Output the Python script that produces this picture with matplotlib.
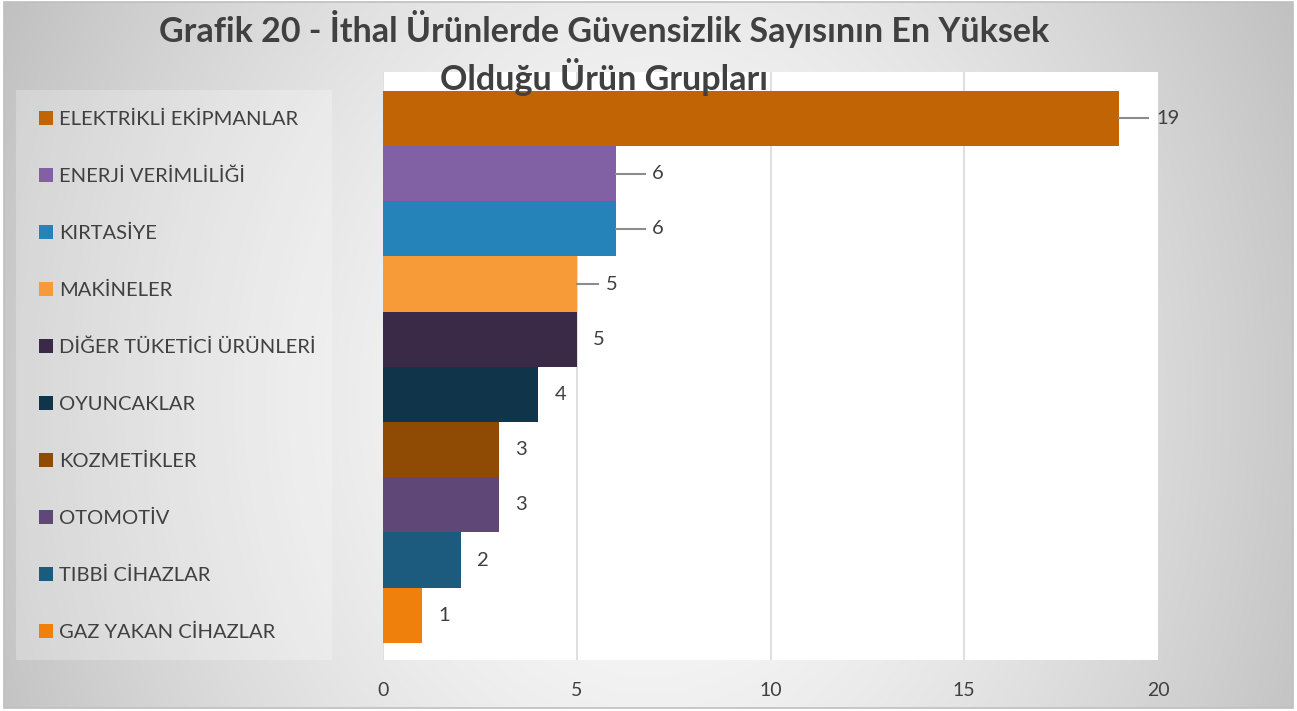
import numpy as np
import matplotlib
matplotlib.use("Agg")
import matplotlib.pyplot as plt
from matplotlib.patches import Rectangle

categories = ["ELEKTRİKLİ EKİPMANLAR", "ENERJİ VERİMLİLİĞİ", "KIRTASİYE", "MAKİNELER",
              "DİĞER TÜKETİCİ ÜRÜNLERİ", "OYUNCAKLAR", "KOZMETİKLER", "OTOMOTİV",
              "TIBBİ CİHAZLAR", "GAZ YAKAN CİHAZLAR"]
values = [19, 6, 6, 5, 5, 4, 3, 3, 2, 1]
colors = ["#C16406", "#8160A3", "#2683BA", "#F79B39", "#3A2A47",
          "#10344A", "#8F4A04", "#5F4878", "#1C5A7E", "#F0800C"]
leader_len = [0.75, 0.75, 0.75, 0.55, 0, 0, 0, 0, 0, 0]
xticks = [0, 5, 10, 15, 20]
title = "Grafik 20 - İthal Ürünlerde Güvensizlik Sayısının En Yüksek\nOlduğu Ürün Grupları"

W, H = 1297, 711
plt.rcParams['font.family'] = ['Lato', 'DejaVu Sans']
fig = plt.figure(figsize=(W / 100, H / 100), dpi=100, facecolor="white")

# background gradient
bg = fig.add_axes([0, 0, 1, 1], zorder=-5)
bg.set_xlim(0, W); bg.set_ylim(H, 0); bg.axis("off")
yy, xx = np.mgrid[0:H, 0:W]
dx = (xx - 650) / 650.0
dy = (yy - 400) / 400.0
d = np.sqrt(dx ** 2 + (0.5 * dy) ** 2)
g = np.clip(0.99 - 0.2 * d ** 1.5, 0, 1)
img = np.dstack([g, g, g])
bg.imshow(img, extent=(4, W - 4, H - 3, 2), aspect="auto", interpolation="bilinear")
bg.add_patch(Rectangle((4, 2), W - 8, H - 5, fill=False, ec="#bfbfbf", lw=1.2))
# legend box
bg.add_patch(Rectangle((16, 90), 316, 570, fc="white", alpha=0.25, ec="none"))

# main axes
left, right, top, bottom = 383, 1158, 72, 660
ax = fig.add_axes([left / W, 1 - bottom / H, (right - left) / W, (bottom - top) / H])
ax.set_facecolor("white")
y = np.arange(len(values))
bars = ax.barh(y, values, height=1.0, color=colors, zorder=3)
ax.set_xlim(0, 20)
ax.set_ylim(9.81, -0.84)
ax.set_xticks(xticks)
ax.set_xticklabels([str(t) for t in xticks], fontsize=14, color="#404040")
ax.tick_params(axis="x", length=0, pad=16)
ax.set_yticks([])
for s in ax.spines.values():
    s.set_visible(False)
for t in xticks[:-1]:
    ax.axvline(t, color="#d9d9d9", lw=1.2, zorder=1)

for yi, v, ll in zip(y, values, leader_len):
    if ll > 0:
        ax.plot([v, v + ll], [yi, yi], color="#8c8c8c", lw=1.5, zorder=4, clip_on=False)
        xt = v + ll + 0.2
    else:
        xt = v + 0.42
    ax.text(xt, yi, str(v), ha="left", va="center", fontsize=14.5, color="#404040",
            zorder=5, clip_on=False)

# legend (manual, one row per bar)
row_y0, row_dy = 118, 57.0
for i, (lab, c) in enumerate(zip(categories, colors)):
    cy = row_y0 + i * row_dy
    bg.add_patch(Rectangle((39, cy - 7), 14, 14, fc=c, ec="none"))
    bg.text(59, cy + 1, lab, ha="left", va="center", fontsize=14.5, color="#404040")

fig.text(604 / W, 1 - 53 / H, title, ha="center", va="center", fontsize=24.5,
         fontweight="bold", color="#404040", linespacing=1.3, zorder=10)

fig.savefig("out.png", dpi=100, facecolor=fig.get_facecolor())
